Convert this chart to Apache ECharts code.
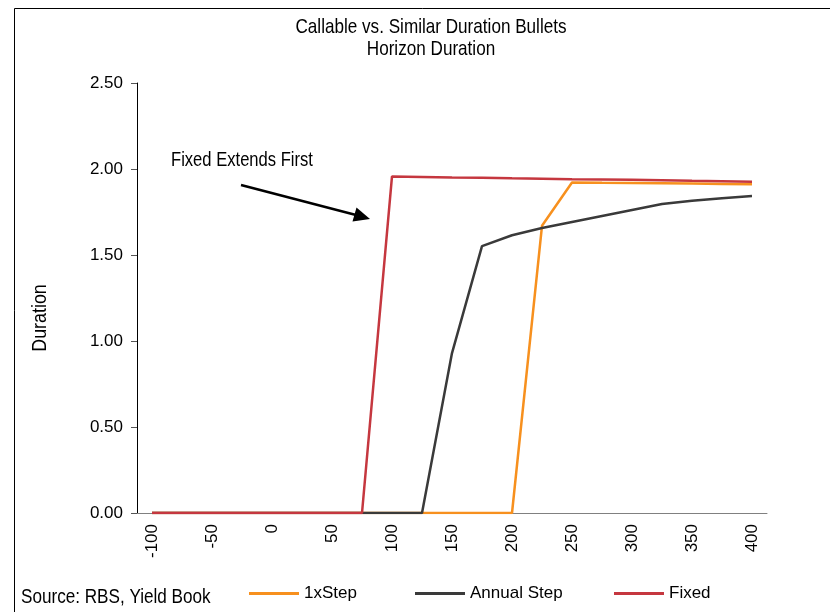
<!DOCTYPE html>
<html>
<head>
<meta charset="utf-8">
<script src="https://cdn.jsdelivr.net/npm/echarts@6/dist/echarts.min.js"></script>
<style>html,body{margin:0;padding:0;background:#fff}#c{width:830px;height:612px}</style>
</head>
<body>
<div id="c"></div>
<script>
var categories = ['-100','-75','-50','-25','0','25','50','75','100','125','150','175','200','225','250','275','300','325','350','375','400'];
var oneXStep = [0,0,0,0,0,0,0,0,0,0,0,0,0,1.67,1.922,1.920,1.919,1.917,1.915,1.913,1.911];
var annualStep = [0,0,0,0,0,0,0,0,0,0,0.93,1.552,1.615,1.657,1.692,1.727,1.762,1.797,1.816,1.830,1.843];
var fixed = [0,0,0,0,0,0,0,0,1.957,1.954,1.951,1.949,1.946,1.944,1.941,1.939,1.937,1.934,1.931,1.929,1.926];
var yTicks = [0, 0.5, 1, 1.5, 2, 2.5];
var titleLines = ['Callable vs. Similar Duration Bullets', 'Horizon Duration'];

var FONT = '"Liberation Sans", Arial, sans-serif';
var BIG = '21px ' + FONT;
var SX = 0.815;
var chart = echarts.init(document.getElementById('c'));
var legendBase = {top: 585, orient: 'horizontal', icon: 'rect', itemWidth: 50, itemHeight: 3,
  textStyle: {fontFamily: FONT, fontSize: 17, color: '#000'}, padding: 0};
chart.setOption({
  animation: false,
  backgroundColor: '#fff',
  grid: {left: 137, right: 63, top: 83, bottom: 99, containLabel: false},
  legend: [
    Object.assign({}, legendBase, {left: 249, data: ['1xStep']}),
    Object.assign({}, legendBase, {left: 415, data: ['Annual Step']}),
    Object.assign({}, legendBase, {left: 614, data: ['Fixed']})
  ],
  xAxis: {
    type: 'category', data: categories, boundaryGap: true,
    axisLine: {lineStyle: {color: '#808080', width: 1}},
    axisTick: {interval: 0, length: 7, lineStyle: {color: '#808080'}},
    axisLabel: {interval: 1, rotate: 90, margin: 11, fontFamily: FONT, fontSize: 17, color: '#000'},
    splitLine: {show: false}
  },
  yAxis: {
    type: 'value', min: yTicks[0], max: yTicks[yTicks.length-1], interval: 0.5,
    axisLine: {show: true, lineStyle: {color: '#000', width: 1}},
    axisTick: {show: true, length: 6, lineStyle: {color: '#555'}},
    axisLabel: {formatter: function(v){return v.toFixed(2);}, margin: 14, fontFamily: FONT, fontSize: 17, color: '#000'},
    splitLine: {show: false}
  },
  series: [
    {name: '1xStep', type: 'line', data: oneXStep, symbol: 'none', lineStyle: {color: '#F7901E', width: 2.5}, itemStyle: {color: '#F7901E'}},
    {name: 'Annual Step', type: 'line', data: annualStep, symbol: 'none', lineStyle: {color: '#3A3A3A', width: 2.5}, itemStyle: {color: '#3A3A3A'}},
    {name: 'Fixed', type: 'line', data: fixed, symbol: 'none', lineStyle: {color: '#C5373F', width: 2.5}, itemStyle: {color: '#C5373F'}}
  ],
  graphic: [
    {type: 'rect', shape: {x: 14.5, y: 8.5, width: 900, height: 700}, style: {fill: 'none', stroke: '#000', lineWidth: 1}, silent: true},
    {type: 'text', x: 431, y: 27.5, scaleX: SX, style: {text: titleLines[0], font: BIG, fill: '#000', textAlign: 'center', textVerticalAlign: 'middle'}},
    {type: 'text', x: 431, y: 49.5, scaleX: SX, style: {text: titleLines[1], font: BIG, fill: '#000', textAlign: 'center', textVerticalAlign: 'middle'}},
    {type: 'text', x: 40.5, y: 318, rotation: Math.PI/2, scaleX: 0.85, style: {text: 'Duration', font: BIG, fill: '#000', textAlign: 'center', textVerticalAlign: 'middle'}},
    {type: 'text', x: 171, y: 160.5, scaleX: 0.79, style: {text: 'Fixed Extends First', font: BIG, fill: '#000', textAlign: 'left', textVerticalAlign: 'middle'}},
    {type: 'line', shape: {x1: 241, y1: 185, x2: 356, y2: 215}, style: {stroke: '#000', lineWidth: 2.5}},
    {type: 'polygon', shape: {points: [[370, 219], [352.5, 221.5], [356.5, 207.5]]}, style: {fill: '#000'}},
    {type: 'text', x: 21, y: 597.5, scaleX: SX, style: {text: 'Source: RBS, Yield Book', font: BIG, fill: '#000', textAlign: 'left', textVerticalAlign: 'middle'}}
  ]
});
</script>
</body>
</html>
